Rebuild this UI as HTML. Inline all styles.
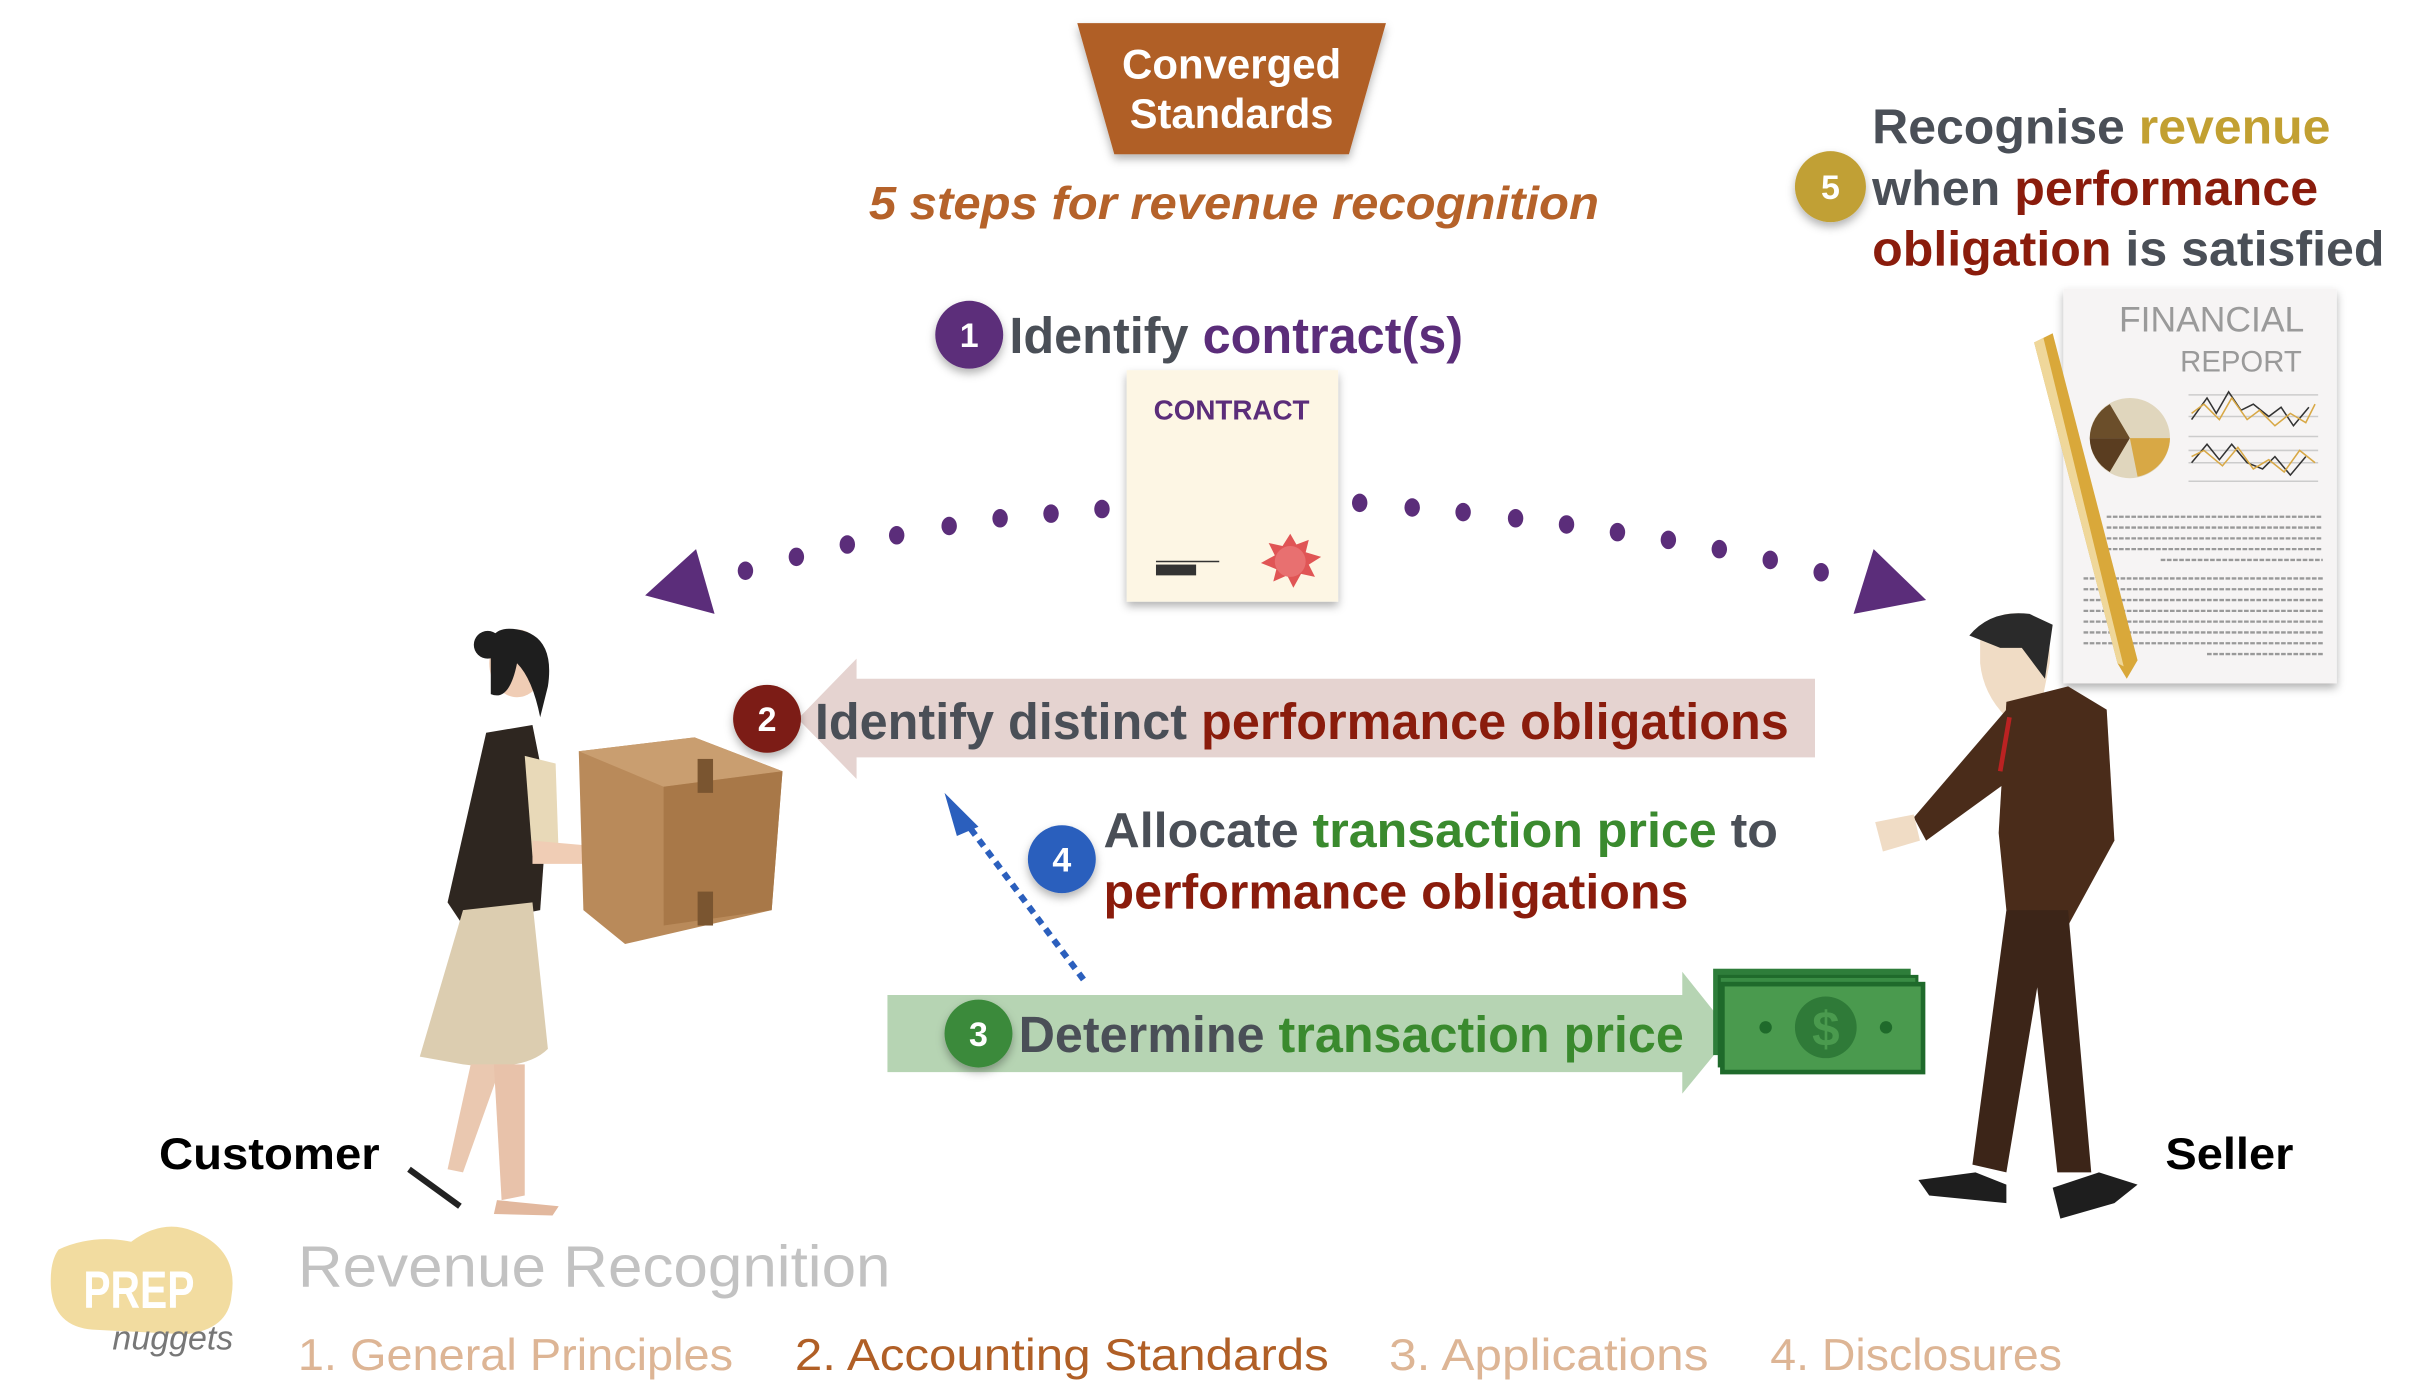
<!DOCTYPE html>
<html><head><meta charset="utf-8"><style>
html,body{margin:0;padding:0;background:#fff;}
svg{display:block;}
text{font-family:"Liberation Sans",sans-serif;}
</style></head><body>
<svg width="2420" height="1396" viewBox="0 0 1568 905" preserveAspectRatio="none" xmlns="http://www.w3.org/2000/svg">
<defs>
<filter id="sh" x="-20%" y="-20%" width="140%" height="140%"><feDropShadow dx="0" dy="3" stdDeviation="3" flood-opacity="0.3"/></filter>
</defs>
<!-- Title trapezoid -->
<polygon points="698,15 898,15 874,100 722,100" fill="#b05f26" filter="url(#sh)"/>
<text x="798" y="51" font-size="27" font-weight="bold" fill="#fff" text-anchor="middle" textLength="142" lengthAdjust="spacingAndGlyphs">Converged</text>
<text x="798" y="83" font-size="27" font-weight="bold" fill="#fff" text-anchor="middle" textLength="132" lengthAdjust="spacingAndGlyphs">Standards</text>
<text x="563" y="142" font-size="30" font-weight="bold" font-style="italic" fill="#b5622a" textLength="473" lengthAdjust="spacingAndGlyphs">5 steps for revenue recognition</text>

<!-- Step 5 -->
<circle cx="1186" cy="121" r="23" fill="#c1a035" filter="url(#sh)"/>
<text x="1186" y="129" font-size="22" font-weight="bold" fill="#fff" text-anchor="middle">5</text>
<text x="1213" y="93" font-size="32" font-weight="bold" textLength="297" lengthAdjust="spacingAndGlyphs"><tspan fill="#4a4f57">Recognise </tspan><tspan fill="#c2a032">revenue</tspan></text>
<text x="1213" y="133" font-size="32" font-weight="bold" textLength="289" lengthAdjust="spacingAndGlyphs"><tspan fill="#4a4f57">when </tspan><tspan fill="#8a1c0c">performance</tspan></text>
<text x="1213" y="172" font-size="32" font-weight="bold" textLength="332" lengthAdjust="spacingAndGlyphs"><tspan fill="#8a1c0c">obligation </tspan><tspan fill="#4a4f57">is satisfied</tspan></text>

<!-- Financial report -->
<rect x="1337" y="187" width="177" height="256" fill="#f6f4f4" filter="url(#sh)"/>
<text x="1433" y="215" font-size="23" fill="#9a9a9a" text-anchor="middle">FINANCIAL</text>
<text x="1452" y="241" font-size="19" fill="#9a9a9a" text-anchor="middle">REPORT</text>
<circle cx="1380" cy="284" r="26" fill="#e0d6bd"/>
<path d="M1380,284 L1354,284 A26,26 0 0 1 1367,262 Z" fill="#6b4e2a"/>
<path d="M1380,284 L1367,306 A26,26 0 0 1 1354,284 Z" fill="#5a3d20"/>
<path d="M1380,284 L1406,284 A26,26 0 0 1 1385,309 Z" fill="#d8a845"/>
<g stroke="#ccc" stroke-width="1"><line x1="1418" y1="256" x2="1502" y2="256"/><line x1="1418" y1="270" x2="1502" y2="270"/><line x1="1418" y1="283" x2="1502" y2="283"/><line x1="1418" y1="292" x2="1502" y2="292"/><line x1="1418" y1="300" x2="1502" y2="300"/><line x1="1418" y1="312" x2="1502" y2="312"/></g>
<polyline points="1420,272 1430,258 1436,268 1444,254 1452,266 1460,262 1470,270 1478,264 1486,276 1496,264" fill="none" stroke="#333" stroke-width="1"/>
<polyline points="1420,268 1428,262 1438,272 1446,258 1456,272 1464,266 1474,276 1484,268 1494,274 1500,262" fill="none" stroke="#d8a845" stroke-width="1"/>
<polyline points="1420,300 1430,288 1438,298 1446,288 1456,300 1466,304 1474,296 1484,308 1494,296" fill="none" stroke="#333" stroke-width="1"/>
<polyline points="1420,296 1428,292 1440,302 1450,290 1460,304 1470,298 1480,306 1490,292 1500,300" fill="none" stroke="#d8a845" stroke-width="1"/>
<g stroke="#999" stroke-width="1.5" stroke-dasharray="3,1">
<line x1="1365" y1="335" x2="1505" y2="335"/><line x1="1365" y1="342" x2="1505" y2="342"/><line x1="1365" y1="349" x2="1505" y2="349"/><line x1="1365" y1="356" x2="1505" y2="356"/><line x1="1400" y1="363" x2="1505" y2="363"/>
<line x1="1350" y1="375" x2="1505" y2="375"/><line x1="1350" y1="382" x2="1505" y2="382"/><line x1="1350" y1="389" x2="1505" y2="389"/><line x1="1350" y1="396" x2="1505" y2="396"/><line x1="1350" y1="403" x2="1505" y2="403"/><line x1="1350" y1="410" x2="1505" y2="410"/><line x1="1350" y1="417" x2="1505" y2="417"/><line x1="1430" y1="424" x2="1505" y2="424"/>
</g>
<!-- pen -->
<polygon points="1318,222 1330,216 1385,428 1378,440 1372,430" fill="#d9a83a"/>
<polygon points="1318,222 1324,219 1376,432 1372,430" fill="#efd79a"/>

<!-- Step 1 -->
<circle cx="628" cy="217" r="22" fill="#5b2d7a" filter="url(#sh)"/>
<text x="628" y="225" font-size="22" font-weight="bold" fill="#fff" text-anchor="middle">1</text>
<text x="654" y="229" font-size="33" font-weight="bold" textLength="294" lengthAdjust="spacingAndGlyphs"><tspan fill="#4a4f57">Identify </tspan><tspan fill="#5b2d7a">contract(s)</tspan></text>
<!-- contract doc -->
<rect x="730" y="240" width="137" height="150" fill="#fdf6e4" filter="url(#sh)"/>
<text x="798" y="272" font-size="18" font-weight="bold" fill="#5b2d7a" text-anchor="middle">CONTRACT</text>
<rect x="749" y="366" width="26" height="7" fill="#333"/>
<line x1="749" y1="364" x2="790" y2="364" stroke="#333" stroke-width="1"/>
<polygon points="836,346 840,353 848,350 846,358 856,361 848,366 852,374 843,372 838,381 834,373 825,377 827,369 817,365 826,360 822,352 831,354" fill="#e05555"/>
<circle cx="836" cy="364" r="10" fill="#e87070"/>

<!-- dotted arcs -->
<g fill="#5b2d7a">
<ellipse cx="483" cy="370" rx="5" ry="6"/><ellipse cx="516" cy="361" rx="5" ry="6"/><ellipse cx="549" cy="353" rx="5" ry="6"/><ellipse cx="581" cy="347" rx="5" ry="6"/><ellipse cx="615" cy="341" rx="5" ry="6"/><ellipse cx="648" cy="336" rx="5" ry="6"/><ellipse cx="681" cy="333" rx="5" ry="6"/><ellipse cx="714" cy="330" rx="5" ry="6"/>
<ellipse cx="881" cy="326" rx="5" ry="6"/><ellipse cx="915" cy="329" rx="5" ry="6"/><ellipse cx="948" cy="332" rx="5" ry="6"/><ellipse cx="982" cy="336" rx="5" ry="6"/><ellipse cx="1015" cy="340" rx="5" ry="6"/><ellipse cx="1048" cy="345" rx="5" ry="6"/><ellipse cx="1081" cy="350" rx="5" ry="6"/><ellipse cx="1114" cy="356" rx="5" ry="6"/><ellipse cx="1147" cy="363" rx="5" ry="6"/><ellipse cx="1180" cy="371" rx="5" ry="6"/>
<polygon points="418,386 451,356 463,398"/>
<polygon points="1214,356 1248,389 1201,398"/>
</g>

<!-- Step 2 arrow -->
<polygon points="517,466 555,427 555,440 1176,440 1176,491 555,491 555,505" fill="#e5d3d0"/>
<circle cx="497" cy="466" r="22" fill="#7c1d12" filter="url(#sh)"/>
<text x="497" y="474" font-size="22" font-weight="bold" fill="#fff" text-anchor="middle">2</text>
<text x="528" y="479" font-size="33" font-weight="bold" textLength="631" lengthAdjust="spacingAndGlyphs"><tspan fill="#4a4f57">Identify distinct </tspan><tspan fill="#8a1c0c">performance obligations</tspan></text>

<!-- Step 4 -->
<line x1="702" y1="635" x2="622" y2="528" stroke="#2b5fbd" stroke-width="4" stroke-dasharray="5,4"/>
<polygon points="612,514 634,536 620,542" fill="#2b5fbd"/>
<circle cx="688" cy="557" r="22" fill="#2b5fbd" filter="url(#sh)"/>
<text x="688" y="565" font-size="22" font-weight="bold" fill="#fff" text-anchor="middle">4</text>
<text x="715" y="549" font-size="32" font-weight="bold" textLength="437" lengthAdjust="spacingAndGlyphs"><tspan fill="#4a4f57">Allocate </tspan><tspan fill="#3a8a2e">transaction price </tspan><tspan fill="#4a4f57">to</tspan></text>
<text x="715" y="589" font-size="32" font-weight="bold" fill="#8a1c0c" textLength="379" lengthAdjust="spacingAndGlyphs">performance obligations</text>

<!-- Step 3 arrow -->
<polygon points="575,645 1090,645 1090,630 1122,670 1090,709 1090,695 575,695" fill="#b6d4b3"/>
<circle cx="634" cy="670" r="22" fill="#3a8a3a" filter="url(#sh)"/>
<text x="634" y="678" font-size="22" font-weight="bold" fill="#fff" text-anchor="middle">3</text>
<text x="660" y="682" font-size="33" font-weight="bold" textLength="431" lengthAdjust="spacingAndGlyphs"><tspan fill="#4a4f57">Determine </tspan><tspan fill="#3a8a2e">transaction price</tspan></text>
<!-- money -->
<rect x="1110" y="628" width="128" height="56" fill="#2e7d3a"/>
<rect x="1114" y="633" width="128" height="58" fill="#3a8c44" stroke="#1f6a2b" stroke-width="2"/>
<rect x="1116" y="638" width="130" height="57" fill="#4a9a4e" stroke="#1f6a2b" stroke-width="3"/>
<circle cx="1183" cy="666" r="20" fill="#2f7a38"/>
<text x="1183" y="678" font-size="32" font-weight="bold" fill="#4a9a4e" text-anchor="middle">$</text>
<circle cx="1144" cy="666" r="4" fill="#1f6a2b"/><circle cx="1222" cy="666" r="4" fill="#1f6a2b"/>

<!-- Customer (woman) -->
<g>
<ellipse cx="335" cy="430" rx="18" ry="22" fill="#f0cdb5"/>
<path d="M318,425 Q315,405 335,408 Q360,412 355,445 L350,465 Q345,440 335,430 Q330,455 318,450 Z" fill="#1e1e1e"/>
<circle cx="316" cy="418" r="9" fill="#1e1e1e"/>
<path d="M315,475 L345,470 L355,520 L350,590 L300,600 L290,585 Z" fill="#2e2620"/>
<path d="M300,590 L345,585 L355,680 Q340,695 300,690 L272,685 Z" fill="#dccdb0"/>
<path d="M305,690 L325,690 L300,760 L290,758 Z" fill="#eac8b0"/>
<path d="M320,690 L340,690 L340,775 L325,778 Z" fill="#e8c2aa"/>
<path d="M322,778 L362,782 L358,788 L320,787 Z" fill="#e2b89e"/>
<line x1="265" y1="758" x2="298" y2="782" stroke="#222" stroke-width="4"/>
<path d="M340,490 L360,495 L362,555 L345,555 Z" fill="#e8d9b8"/>
<path d="M345,545 L380,548 L378,560 L345,560 Z" fill="#f0cdb5"/>
</g>
<!-- Box -->
<polygon points="375,487 450,478 507,500 500,590 405,612 378,590" fill="#b98a5a"/>
<polygon points="375,487 450,478 507,500 430,510" fill="#c99e70"/>
<polygon points="430,510 507,500 500,590 430,600" fill="#a87848"/>
<rect x="452" y="492" width="10" height="22" fill="#7a5530"/>
<rect x="452" y="578" width="10" height="22" fill="#7a5530"/>

<!-- Seller (man) -->
<g>
<path d="M1283,412 Q1290,395 1312,398 Q1330,402 1328,430 L1322,460 L1300,465 Q1285,450 1283,430 Z" fill="#f0dcc5"/>
<path d="M1276,412 Q1290,395 1315,398 L1330,405 L1325,440 L1310,420 L1296,420 Z" fill="#2a2a2a"/>
<path d="M1300,455 L1340,445 L1365,460 L1370,545 L1340,600 L1300,590 L1295,540 Z" fill="#4a2c1a"/>
<path d="M1300,460 L1240,530 L1248,545 L1310,500 Z" fill="#4a2c1a"/>
<path d="M1215,533 L1240,528 L1244,545 L1220,552 Z" fill="#f0dcc5"/>
<path d="M1300,590 L1340,590 L1355,760 L1333,760 L1320,640 L1300,760 L1278,755 Z" fill="#3c2518"/>
<path d="M1243,765 L1280,760 L1300,768 L1300,780 L1250,775 Z" fill="#1e1e1e"/>
<path d="M1330,770 L1360,760 L1385,768 L1370,780 L1335,790 Z" fill="#1e1e1e"/>
<line x1="1302" y1="465" x2="1296" y2="500" stroke="#b22" stroke-width="3"/>
</g>

<!-- labels -->
<text x="103" y="758" font-size="29" font-weight="bold" fill="#000" textLength="143" lengthAdjust="spacingAndGlyphs">Customer</text>
<text x="1403" y="758" font-size="29" font-weight="bold" fill="#000" textLength="83" lengthAdjust="spacingAndGlyphs">Seller</text>

<!-- footer -->
<path d="M38,810 Q60,800 85,805 Q105,790 125,798 Q155,810 150,840 Q148,862 120,865 L60,862 Q35,860 33,835 Q32,818 38,810 Z" fill="#f2dca0"/>
<text x="90" y="848" font-size="34" font-weight="bold" fill="#fff" text-anchor="middle" textLength="72" lengthAdjust="spacingAndGlyphs">PREP</text>
<text x="112" y="875" font-size="22" fill="#777" text-anchor="middle" font-style="italic">nuggets</text>
<text x="193" y="834" font-size="38" fill="#c2c2c2" textLength="384" lengthAdjust="spacingAndGlyphs">Revenue Recognition</text>
<text x="193" y="888" font-size="29" fill="#ddb595" textLength="282" lengthAdjust="spacingAndGlyphs">1. General Principles</text>
<text x="515" y="888" font-size="29" fill="#b05f26" textLength="346" lengthAdjust="spacingAndGlyphs">2. Accounting Standards</text>
<text x="900" y="888" font-size="29" fill="#ddb595" textLength="207" lengthAdjust="spacingAndGlyphs">3. Applications</text>
<text x="1147" y="888" font-size="29" fill="#ddb595" textLength="189" lengthAdjust="spacingAndGlyphs">4. Disclosures</text>
</svg>
</body></html>
